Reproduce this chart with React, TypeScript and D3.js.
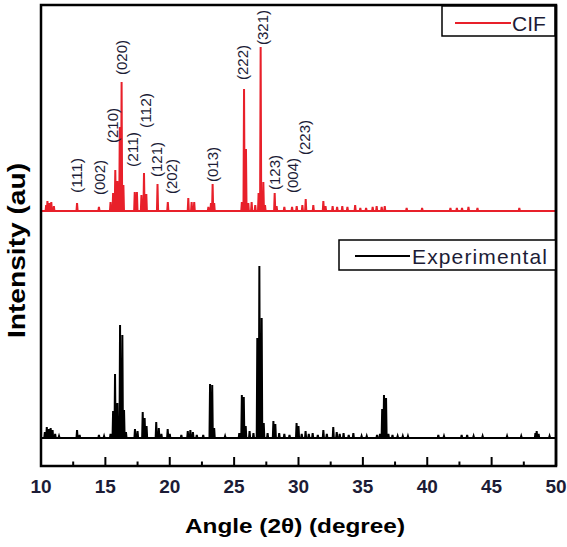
import React from "react";
import * as d3 from "d3";

// ---- Data (angle in degrees 2θ, intensity in a.u.) ----
const cifPos = [10.4, 10.5, 10.65, 10.8, 11.0, 12.8, 14.5, 15.4, 15.6, 15.77, 15.93, 16.12, 16.26, 16.4, 17.28, 17.45, 17.8, 18.0, 18.18, 19.05, 19.85, 21.44, 21.7, 21.9, 23.0, 23.2, 23.33, 23.45, 25.6, 25.77, 25.92, 26.1, 26.36, 26.64, 26.9, 27.06, 27.27, 27.4, 28.15, 28.3, 28.9, 29.5, 29.86, 30.3, 30.56, 31.15, 31.93, 32.1, 32.65, 33.0, 33.4, 33.8, 34.4, 34.8, 35.25, 35.76, 36.07, 36.46, 36.7, 38.4, 39.6, 41.8, 42.3, 42.7, 43.2, 43.9, 47.15];
const cifInt = [6, 10, 8, 9, 5, 8, 4, 9, 18, 41, 30, 84, 129, 26, 19, 19, 16, 38, 17, 27, 9, 13, 9, 9, 4, 8, 27, 8, 9, 122, 62, 8, 9, 6, 18, 164, 29, 6, 18, 5, 4, 4, 5, 6, 12, 6, 10, 5, 5, 4, 5, 4, 6, 3, 3, 4, 5, 4, 5, 3, 3, 3, 3, 3, 4, 3, 3];

const expPos = [10.3, 10.45, 10.6, 10.75, 10.9, 11.1, 11.4, 12.8, 13.0, 14.5, 14.9, 15.4, 15.6, 15.75, 15.93, 16.14, 16.32, 16.45, 16.6, 17.3, 17.5, 17.9, 18.05, 18.2, 18.95, 19.15, 19.35, 19.84, 20.0, 20.9, 21.4, 21.6, 21.8, 22.1, 22.6, 23.13, 23.3, 23.45, 24.3, 25.4, 25.6, 25.75, 25.9, 26.2, 26.5, 26.8, 26.96, 27.14, 27.3, 27.6, 28.05, 28.2, 28.5, 28.9, 29.3, 29.85, 30.0, 30.25, 30.55, 30.8, 31.1, 31.5, 31.93, 32.2, 32.7, 32.97, 33.2, 33.5, 33.9, 34.26, 34.9, 35.3, 36.1, 36.33, 36.5, 36.64, 36.8, 36.98, 37.3, 37.7, 38.1, 38.5, 40.86, 41.3, 42.67, 43.1, 43.6, 44.3, 46.2, 47.3, 48.4, 48.5, 48.65, 49.5];
const expInt = [6, 11, 9, 10, 8, 4, 2, 8, 3, 3, 2, 4, 27, 64, 35, 113, 103, 28, 6, 9, 7, 26, 20, 12, 16, 10, 4, 9, 4, 3, 7, 8, 6, 3, 3, 54, 53, 10, 2, 5, 43, 41, 12, 7, 5, 100, 172, 120, 15, 5, 17, 14, 5, 4, 3, 15, 12, 4, 7, 4, 5, 3, 8, 4, 11, 6, 4, 5, 3, 5, 2, 2, 3, 4, 29, 43, 40, 4, 3, 2, 2, 2, 3, 2, 3, 3, 2, 2, 2, 2, 5, 7, 4, 2];

const cifOffset = 255;
const expOffset = 28;

const hklLabels = ["(111)", "(002)", "(210)", "(020)", "(211)", "(112)", "(121)", "(202)", "(013)", "(222)", "(321)", "(123)", "(004)", "(223)"];
const hklAngle = [12.77, 14.58, 15.57, 16.27, 17.12, 18.16, 19.03, 20.15, 23.34, 25.67, 27.27, 28.17, 29.6, 30.5];
const hklLevel = [273, 271, 323, 391, 299, 338, 289, 272, 284, 386, 421, 276, 273, 311];

const xTicks = [10, 15, 20, 25, 30, 35, 40, 45, 50];
const xMinor = [12.5, 17.5, 22.5, 27.5, 32.5, 37.5, 42.5, 47.5];

const W = 567, H = 547;
const left = 41, right = 556, top = 5, bottom = 466;

const x = d3.scaleLinear().domain([10, 50]).range([left, right]);
const y = d3.scaleLinear().domain([0, 461]).range([bottom, top]);

function profile(pos: number[], inten: number[], offset: number): [number, number][] {
  const hw = 0.045;
  const pts: [number, number][] = [[10.05, offset]];
  pos.forEach((p, i) => {
    pts.push([p - hw, offset]);
    pts.push([p, offset + inten[i]]);
    pts.push([p + hw, offset]);
  });
  pts.push([49.95, offset]);
  return pts;
}

const line = d3.line<[number, number]>().x(d => x(d[0])).y(d => y(d[1]));

const TEXT = "#1c1c36";
const RED = "#e8202a";

export default function App() {
  const cifPath = line(profile(cifPos, cifInt, cifOffset)) || "";
  const expPath = line(profile(expPos, expInt, expOffset)) || "";
  return (
    <svg width={W} height={H} style={{ position: "absolute", left: 0, top: 0, background: "#fff" }}
      fontFamily="'Liberation Sans', Arial, sans-serif">
      <rect x={0} y={0} width={W} height={H} fill="#fff" />
      <path d={cifPath} fill="none" stroke={RED} strokeWidth={2} strokeLinejoin="miter" />
      <path d={expPath} fill="none" stroke="#000" strokeWidth={2} strokeLinejoin="miter" />

      {hklLabels.map((t, i) => (
        <text key={t} transform={`translate(${x(hklAngle[i])},${y(hklLevel[i])}) rotate(-90)`}
          dy="0.36em" fontSize={14} fill={TEXT} textLength={35} lengthAdjust="spacingAndGlyphs">{t}</text>
      ))}

      {/* frame */}
      <rect x={left} y={top} width={right - left} height={bottom - top} fill="none" stroke="#000" strokeWidth={2.5} />

      {/* ticks */}
      {xTicks.map(v => (
        <line key={"t" + v} x1={x(v)} x2={x(v)} y1={bottom} y2={bottom - 9} stroke="#000" strokeWidth={2} />
      ))}
      {xMinor.map(v => (
        <line key={"m" + v} x1={x(v)} x2={x(v)} y1={bottom} y2={bottom - 4.5} stroke="#000" strokeWidth={2} />
      ))}
      {xTicks.map(v => (
        <text key={"l" + v} x={x(v)} y={493} textAnchor="middle" fontSize={19} fontWeight="bold" fill={TEXT}>{v}</text>
      ))}

      {/* axis titles */}
      <text x={295} y={533} textAnchor="middle" fontSize={21} fontWeight="bold" fill="#000"
        textLength={220} lengthAdjust="spacingAndGlyphs">Angle (2θ) (degree)</text>
      <text transform="translate(25,250.5) rotate(-90)" textAnchor="middle" fontSize={23} fontWeight="bold" fill="#000"
        textLength={175} lengthAdjust="spacingAndGlyphs">Intensity (au)</text>

      {/* legends */}
      <rect x={442} y={6} width={113} height={30} fill="#fff" stroke="#000" strokeWidth={1.5} />
      <line x1={455} x2={511} y1={23} y2={23} stroke={RED} strokeWidth={2} />
      <text x={512} y={30.5} fontSize={21} fill={TEXT}>CIF</text>

      <rect x={339} y={240} width={217} height={30} fill="#fff" stroke="#000" strokeWidth={1.5} />
      <line x1={355} x2={410} y1={256} y2={256} stroke="#000" strokeWidth={2} />
      <text x={412} y={264} fontSize={21} fill={TEXT} textLength={135} lengthAdjust="spacing">Experimental</text>
      <line x1={right} x2={right} y1={top} y2={bottom} stroke="#000" strokeWidth={2.5} />
    </svg>
  );
}
